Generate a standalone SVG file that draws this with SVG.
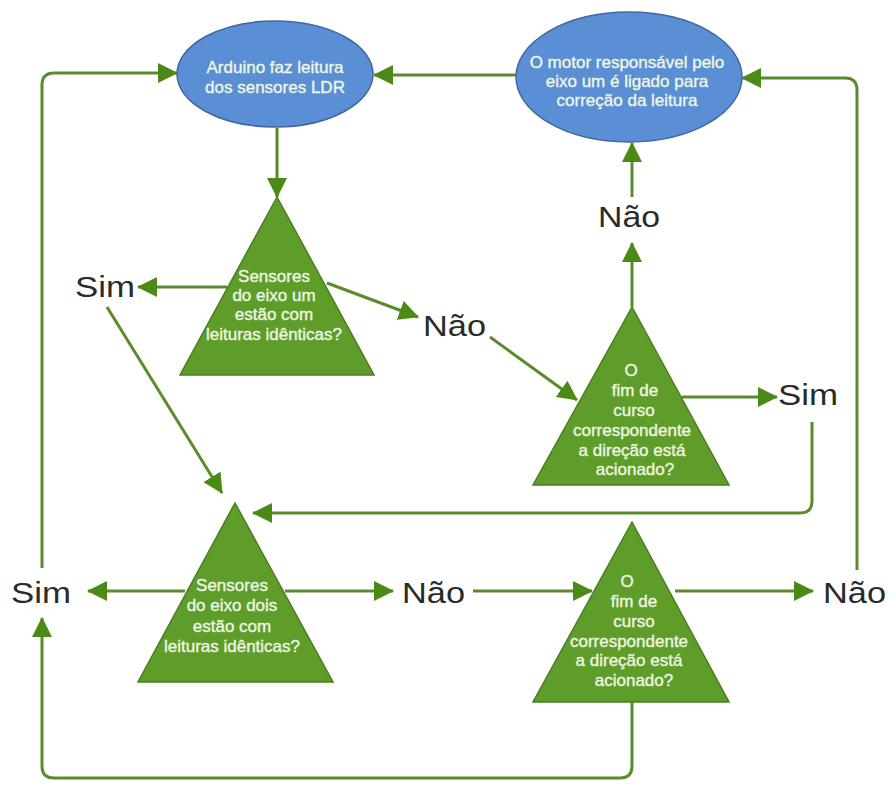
<svg xmlns="http://www.w3.org/2000/svg" width="889" height="789" viewBox="0 0 889 789">
<style>
.ell{fill:#5b8fd5;stroke:#41689e;stroke-width:1.5}
.tri{fill:#5f9d2b;stroke:#4b7d1f;stroke-width:1.5}
.nt{font-family:"Liberation Sans",Arial,sans-serif;font-size:17px;fill:#eef7e2;stroke:#eef7e2;stroke-width:0.35;text-anchor:middle}
.lb{font-family:"Liberation Sans",Arial,sans-serif;font-size:29px;fill:#2a2a2a}
.c{fill:none;stroke:#5a8b2c;stroke-width:3;stroke-linejoin:round}
.a{marker-end:url(#ah)}
</style>
<defs>
<marker id="ah" markerUnits="userSpaceOnUse" markerWidth="20" markerHeight="20" refX="19" refY="10" orient="auto" viewBox="0 0 20 20">
<path d="M0,0 L20,10 L0,20 z" fill="#4c8a18"/>
</marker>
</defs>
<rect width="889" height="789" fill="#ffffff"/>

<g id="connectors">
<path class="c a" d="M517,75 L374,75"/>
<path class="c a" d="M42,568 L42,85 Q42,73 54,73 L177,73"/>
<path class="c a" d="M857,570 L857,90 Q857,78 845,78 L742,78"/>
<path class="c a" d="M277,128 L277,197"/>
<path class="c a" d="M227,287 L138,287"/>
<path class="c a" d="M327,283 L418,317"/>
<path class="c a" d="M490,337 L577,400"/>
<path class="c a" d="M682,397 L777,397"/>
<path class="c a" d="M812,422 L812,501 Q812,513 800,513 L253,513"/>
<path class="c a" d="M632,307 L632,243"/>
<path class="c a" d="M632,197 L632,143"/>
<path class="c a" d="M107,307 L222,493"/>
<path class="c a" d="M185,591 L88,591"/>
<path class="c a" d="M285,591 L393,591"/>
<path class="c a" d="M473,591 L592,591"/>
<path class="c a" d="M675,591 L813,591"/>
<path class="c a" d="M632,702 L632,766 Q632,778 620,778 L54,778 Q42,778 42,766 L42,618"/>
</g>

<g id="ellipse-arduino">
<ellipse class="ell" cx="275" cy="74" rx="98" ry="53"/>
<text class="nt" x="275" y="73">Arduino faz leitura</text>
<text class="nt" x="275" y="93">dos sensores LDR</text>
</g>

<g id="ellipse-motor">
<ellipse class="ell" cx="629" cy="77" rx="113" ry="65"/>
<text class="nt" x="627" y="68">O motor responsável pelo</text>
<text class="nt" x="627" y="87">eixo um é ligado para</text>
<text class="nt" x="627" y="106">correção da leitura</text>
</g>

<g id="decision-eixo-um">
<polygon class="tri" points="277,197 180,375 374,375"/>
<text class="nt" x="274" y="282">Sensores</text>
<text class="nt" x="274" y="301">do eixo um</text>
<text class="nt" x="274" y="320">estão com</text>
<text class="nt" x="274" y="340">leituras idênticas?</text>
</g>

<g id="decision-fim-curso-1">
<polygon class="tri" points="632,307 533,485 729,485"/>
<text class="nt" x="631" y="376">O</text>
<text class="nt" x="635" y="396">fim de</text>
<text class="nt" x="634" y="416">curso</text>
<text class="nt" x="632" y="436">correspondente</text>
<text class="nt" x="632" y="456">a direção está</text>
<text class="nt" x="635" y="475">acionado?</text>
</g>

<g id="decision-eixo-dois">
<polygon class="tri" points="235,503 138,682 333,682"/>
<text class="nt" x="232" y="591">Sensores</text>
<text class="nt" x="232" y="611">do eixo dois</text>
<text class="nt" x="232" y="632">estão com</text>
<text class="nt" x="232" y="652">leituras idênticas?</text>
</g>

<g id="decision-fim-curso-2">
<polygon class="tri" points="632,522 533,702 729,702"/>
<text class="nt" x="627" y="587">O</text>
<text class="nt" x="634" y="607">fim de</text>
<text class="nt" x="634" y="627">curso</text>
<text class="nt" x="629" y="647">correspondente</text>
<text class="nt" x="629" y="666">a direção está</text>
<text class="nt" x="634" y="686">acionado?</text>
</g>

<g id="labels">
<text class="lb" x="75" y="297" textLength="60" lengthAdjust="spacingAndGlyphs">Sim</text>
<text class="lb" x="423" y="336" textLength="63" lengthAdjust="spacingAndGlyphs">Não</text>
<text class="lb" x="598" y="227" textLength="62" lengthAdjust="spacingAndGlyphs">Não</text>
<text class="lb" x="778" y="405" textLength="60" lengthAdjust="spacingAndGlyphs">Sim</text>
<text class="lb" x="11" y="603" textLength="60" lengthAdjust="spacingAndGlyphs">Sim</text>
<text class="lb" x="402" y="603" textLength="63" lengthAdjust="spacingAndGlyphs">Não</text>
<text class="lb" x="823" y="603" textLength="63" lengthAdjust="spacingAndGlyphs">Não</text>
</g>
</svg>
